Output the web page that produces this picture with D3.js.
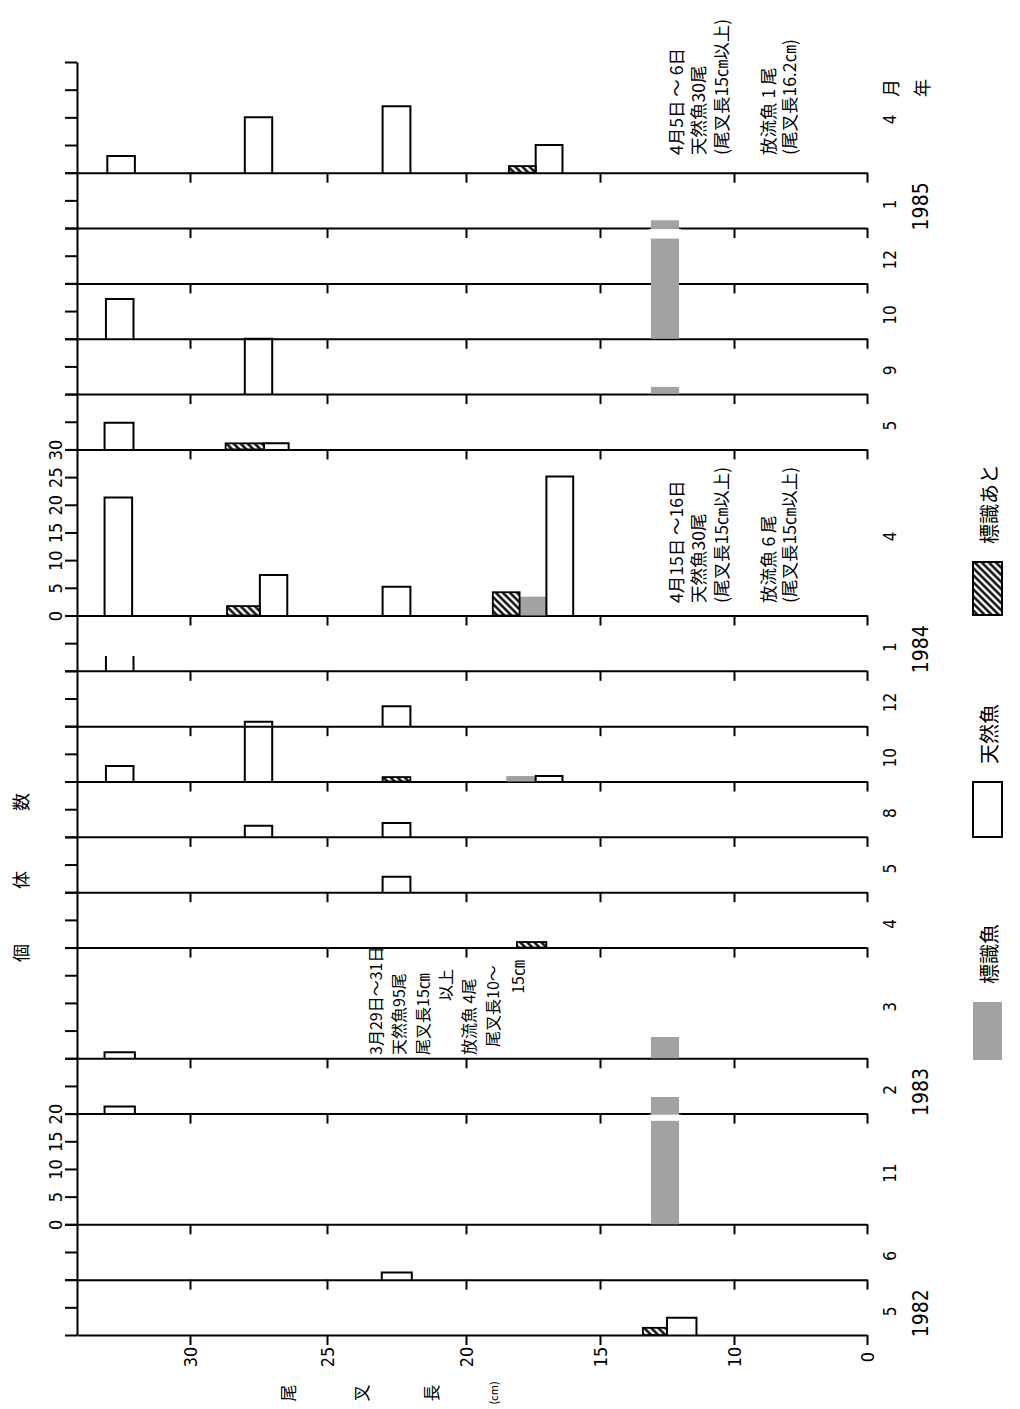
<!DOCTYPE html>
<html lang="ja">
<head>
<meta charset="UTF-8">
<script src="https://cdn.jsdelivr.net/npm/d3@7"></script>
<title>尾叉長組成</title>
<style>
  body { margin: 0; background: #fff; }
  svg { display: block; }
  .num { font-family: "Liberation Sans Narrow", "DejaVu Sans Condensed", sans-serif; }
  .jp { font-family: "Noto Sans CJK JP", sans-serif; }
</style>
</head>
<body>
<div id="chart"></div>
<script>
// panels from the oldest (bottom) to the newest (top)
const panelYear  = [1982, 1982, 1982, 1983, 1983, 1983, 1983, 1983, 1983, 1983, 1984, 1984, 1984, 1984, 1984, 1984, 1985, 1985];
const panelMonth = [5, 6, 11, 2, 3, 4, 5, 8, 10, 12, 1, 4, 5, 9, 10, 12, 1, 4];
const panelMax   = [10, 10, 20, 10, 20, 10, 10, 10, 10, 10, 10, 30, 10, 10, 10, 10, 10, 20];

// [panel, fork length from (cm), to (cm), count]
const wildFish = [
  ["1985-4", 32, 33, 3], ["1985-4", 27, 28, 10], ["1985-4", 22, 23, 12], ["1985-4", 16.4, 17.4, 5],
  ["1984-10", 32.05, 33.05, 7.2],
  ["1984-9", 27, 28, 10],
  ["1984-5", 32.05, 33.1, 4.8], ["1984-5", 26.4, 27.3, 1.1],
  ["1984-4", 32.1, 33.1, 21.3], ["1984-4", 26.45, 27.45, 7.3], ["1984-4", 22, 23, 5.2], ["1984-4", 16, 17, 25.1],
  ["1983-12", 22, 23, 3.6],
  ["1983-10", 32.05, 33.05, 2.8], ["1983-10", 27, 28, 10.8], ["1983-10", 16.4, 17.4, 1.0],
  ["1983-8", 27, 28, 2.0], ["1983-8", 22, 23, 2.5],
  ["1983-5", 22, 23, 2.8],
  ["1983-3", 32, 33.1, 1.1],
  ["1983-2", 32, 33.1, 1.3],
  ["1982-6", 21.95, 23.03, 1.3],
  ["1982-5", 11.4, 12.5, 3.1]
];
const taggedFish = [
  ["1984-10", 12.05, 13.1, 21.4],
  ["1984-9", 12.05, 13.1, 1.3],
  ["1984-4", 17, 18, 3.4],
  ["1983-10", 17.4, 18.5, 1.0],
  ["1983-3", 12.05, 13.1, 3.85],
  ["1982-11", 12.05, 13.1, 23]
];
const scarFish = [
  ["1985-4", 17.4, 18.4, 1.2],
  ["1984-5", 27.3, 28.7, 1.1],
  ["1984-4", 27.45, 28.65, 1.7], ["1984-4", 18, 19, 4.2],
  ["1983-10", 22, 23, 0.8],
  ["1983-4", 17, 18.1, 1.0],
  ["1982-5", 12.5, 13.4, 1.3]
];
// bar drawn with its sides only
const openBars = [["1984-1", 32.05, 33.05, 2.7]];
// bars cut by a gap: [panel, from cm, to cm, gap from count, gap to count]
const barBreaks = [["1984-10", 12.05, 13.1, 18.1, 19.8], ["1982-11", 12.05, 13.1, 18.7, 19.8]];

const lengthTicks = [0, 10, 15, 20, 25, 30];
const countLabelPanels = ["1984-4", "1982-11"];

const legendNames = ["標識魚", "天然魚", "標識あと"];
const note1985 = [["4月5日 ～ 6日", "天然魚30尾", "(尾叉長15㎝以上)"], ["放流魚 1 尾", "(尾叉長16.2㎝)"]];
const note1984 = [["4月15日 ～16日", "天然魚30尾", "(尾叉長15㎝以上)"], ["放流魚 6 尾", "(尾叉長15㎝以上)"]];
const note1983 = [["3月29日～31日", "天然魚95尾", "尾叉長15㎝", "以上"], ["放流魚 4尾", "尾叉長10～", "15㎝"]];

const W = 1020, H = 1409;
const svg = d3.select("#chart").append("svg").attr("width", W).attr("height", H);

const defs = svg.append("defs");
const hatch = defs.append("pattern").attr("id", "hatch")
  .attr("patternUnits", "userSpaceOnUse").attr("width", 5).attr("height", 5)
  .attr("patternTransform", "rotate(-45)");
hatch.append("rect").attr("width", 5).attr("height", 5).attr("fill", "#fff");
hatch.append("line").attr("x1", 1.5).attr("y1", 0).attr("x2", 1.5).attr("y2", 5)
  .attr("stroke", "#000").attr("stroke-width", 2.4);

const GRAY = "#a2a2a2";

// fork length runs right to left, with the 0 squeezed in next to 10
const x = d3.scaleLinear().domain([0, 10, 15, 20, 25, 30, 34.1]).range([867, 734, 600, 466, 327, 190, 77]);
const total = d3.sum(panelMax);
const yc = d3.scaleLinear().domain([0, total]).range([1335, 62]);

const panels = panelMax.map((m, i) => {
  const off = d3.sum(panelMax.slice(0, i));
  return {
    key: panelYear[i] + "-" + panelMonth[i],
    year: panelYear[i], month: panelMonth[i], max: m, i: i,
    y: d3.scaleLinear().domain([0, m]).range([yc(off), yc(off + m)])
  };
});
const byKey = Object.fromEntries(panels.map(p => [p.key, p]));

// count axis (left), one piece per panel
panels.forEach(p => {
  const labelled = countLabelPanels.includes(p.key);
  const g = svg.append("g").attr("transform", "translate(77,0)")
    .call(d3.axisLeft(p.y).tickValues(d3.range(0, p.max + 1, 5)).tickSize(12).tickSizeOuter(0)
      .tickFormat(labelled ? d3.format("d") : ""));
  g.select(".domain").attr("stroke-width", 2);
  g.selectAll(".tick line").attr("stroke-width", 2);
  g.selectAll(".tick text")
    .attr("class", "num").attr("font-size", 18).attr("fill", "#000")
    .attr("x", 0).attr("dy", null)
    .attr("text-anchor", "middle").attr("dominant-baseline", "central")
    .attr("transform", "translate(-22,0) rotate(-90)");
});

// fork length axis under every panel
panels.forEach(p => {
  const bottom = p.i === 0;
  const g = svg.append("g").attr("transform", `translate(0,${p.y(0)})`)
    .call(d3.axisBottom(x).tickValues(lengthTicks).tickSize(10).tickSizeOuter(0)
      .tickFormat(bottom ? d3.format("d") : ""));
  g.select(".domain").attr("stroke-width", 2);
  g.selectAll(".tick line").attr("stroke-width", 2);
  g.selectAll(".tick text")
    .attr("class", "num").attr("font-size", 18).attr("fill", "#000")
    .attr("y", 0).attr("dy", null)
    .attr("text-anchor", "middle").attr("dominant-baseline", "central")
    .attr("transform", "translate(0,22) rotate(-90)");
});

// bars
const bars = svg.append("g");
bars.selectAll("rect.tagged").data(taggedFish).join("rect").attr("class", "tagged")
  .attr("x", d => x(d[2])).attr("width", d => x(d[1]) - x(d[2]))
  .attr("y", d => byKey[d[0]].y(d[3])).attr("height", d => byKey[d[0]].y(0) - byKey[d[0]].y(d[3]))
  .attr("fill", GRAY);

bars.selectAll("rect.brk").data(barBreaks).join("rect").attr("class", "brk")
  .attr("x", d => x(d[2]) - 2).attr("width", d => x(d[1]) - x(d[2]) + 4)
  .attr("y", d => byKey[d[0]].y(d[4])).attr("height", d => byKey[d[0]].y(d[3]) - byKey[d[0]].y(d[4]))
  .attr("fill", "#fff");

bars.selectAll("rect.scar").data(scarFish).join("rect").attr("class", "scar")
  .attr("x", d => x(d[2])).attr("width", d => x(d[1]) - x(d[2]))
  .attr("y", d => byKey[d[0]].y(d[3])).attr("height", d => byKey[d[0]].y(0) - byKey[d[0]].y(d[3]))
  .attr("fill", "url(#hatch)")
  .attr("stroke", "#000").attr("stroke-width", 1.8);

bars.selectAll("path.wild").data(wildFish).join("path").attr("class", "wild")
  .attr("d", d => {
    const p = byKey[d[0]];
    return `M${x(d[1])},${p.y(0)}V${p.y(d[3])}H${x(d[2])}V${p.y(0)}`;
  })
  .attr("fill", "none").attr("stroke", "#000").attr("stroke-width", 2);

bars.selectAll("path.open").data(openBars).join("path").attr("class", "open")
  .attr("d", d => {
    const p = byKey[d[0]];
    return `M${x(d[1])},${p.y(0)}V${p.y(d[3])}M${x(d[2])},${p.y(0)}V${p.y(d[3])}`;
  })
  .attr("fill", "none").attr("stroke", "#000").attr("stroke-width", 2);

// month and year labels on the right
const lab = svg.append("g");
panels.forEach(p => {
  const cy = (p.y(0) + p.y(p.max)) / 2;
  lab.append("text").attr("class", "num").attr("font-size", 17)
    .attr("text-anchor", "middle").attr("dominant-baseline", "central")
    .attr("transform", `translate(890,${cy + (p.key === "1985-4" ? 2 : 4)}) rotate(-90)`)
    .text(p.month);
});
d3.groups(panels, p => p.year).forEach(([yr, ps]) => {
  const p = ps[0];
  const cy = (p.y(0) + p.y(p.max)) / 2;
  lab.append("text").attr("class", "num").attr("font-size", 21)
    .attr("text-anchor", "middle").attr("dominant-baseline", "central")
    .attr("transform", `translate(921,${cy + 6}) rotate(-90)`)
    .text(yr);
});
lab.append("text").attr("class", "jp").attr("font-size", 18)
  .attr("text-anchor", "middle").attr("dominant-baseline", "central")
  .attr("transform", "translate(890,88) rotate(-90)").text("月");
lab.append("text").attr("class", "jp").attr("font-size", 18)
  .attr("text-anchor", "middle").attr("dominant-baseline", "central")
  .attr("transform", "translate(921,88) rotate(-90)").text("年");

// axis titles
[["個", 953], ["体", 880], ["数", 802]].forEach(([t, yy]) => {
  svg.append("text").attr("class", "jp").attr("font-size", 18)
    .attr("text-anchor", "middle").attr("dominant-baseline", "central")
    .attr("transform", `translate(20,${yy}) rotate(-90)`).text(t);
});
[["尾", 287, 17], ["叉", 360, 17], ["長", 430, 17], ["(cm)", 493, 11]].forEach(([t, xx, fs]) => {
  svg.append("text").attr("class", "jp").attr("font-size", fs)
    .attr("text-anchor", "middle").attr("dominant-baseline", "central")
    .attr("transform", `translate(${xx},1393) rotate(-90)`).text(t);
});

// notes
function noteColumn(txt, xx, yy, anchor, fs) {
  svg.append("text").attr("class", "jp").attr("font-size", fs)
    .attr("text-anchor", anchor).attr("dominant-baseline", "central")
    .attr("transform", `translate(${xx},${yy}) rotate(-90)`).text(txt);
}
const noteX = [[675, 697, 720], [767, 788]];
[[note1985, 155], [note1984, 603]].forEach(([note, y0]) => {
  note.forEach((grp, gi) => grp.forEach((t, li) => noteColumn(t, noteX[gi][li], y0, "start", 17.5)));
});
noteColumn(note1983[0][0], 375, 1055, "start", 16);
noteColumn(note1983[0][1], 398, 1055, "start", 16);
noteColumn(note1983[0][2], 422, 1055, "start", 16);
noteColumn(note1983[0][3], 445, 969, "end", 16);
noteColumn(note1983[1][0], 468, 1055, "start", 16);
noteColumn(note1983[1][1], 492, 1047, "start", 16);
noteColumn(note1983[1][2], 517, 960, "end", 16);

// legend
const legendFill = [GRAY, "#fff", "url(#hatch)"];
const legendBox = [[1002, 1060], [782, 837], [562, 615]];
legendNames.forEach((name, i) => {
  const [y0, y1] = legendBox[i];
  svg.append("rect").attr("x", 973).attr("y", y0).attr("width", 29).attr("height", y1 - y0)
    .attr("fill", legendFill[i])
    .attr("stroke", i === 0 ? "none" : "#000").attr("stroke-width", 2);
  noteColumn(name, 988, y0 - 18, "start", 20);
});
</script>
</body>
</html>
